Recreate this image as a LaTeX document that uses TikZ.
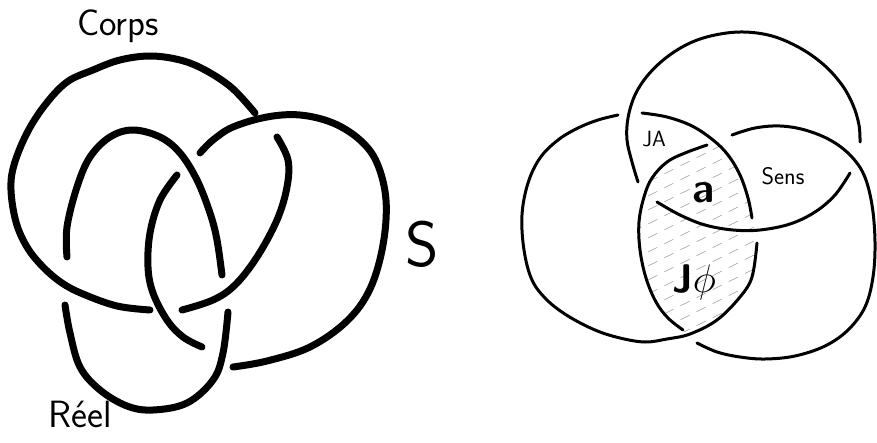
\documentclass[tikz,border=0pt]{standalone}
\begin{document}
\begin{tikzpicture}[x=1pt,y=-1pt,
  thickring/.style={line width=7pt,line cap=round,line join=round},
  thinring/.style={line width=3pt,line cap=round,line join=round},
  hatchline/.style={line width=0.5pt,gray!80,dash pattern=on 10pt off 8pt},
  lbl/.style={inner sep=0pt,font=\sffamily}]
\path[use as bounding box] (0,0) rectangle (877,443);

% ---------- left: Borromean knot ----------
% Corps
\draw[thickring] plot[smooth,tension=0.6] coordinates {(255,113) (232,88) (205,70) (180,60) (150,56) (120,60) (93,70) (67,82) (45,105) (27,133) (14,165) (11,190) (16,222) (27,247) (43,267) (62,283) (83,294) (117,306) (150,310)};
\draw[thickring] plot[smooth,tension=0.6] coordinates {(182,310) (213,300) (235,285) (257,257) (277,220) (287,187) (288,160) (277,137)};
% S
\draw[thickring] plot[smooth,tension=0.6] coordinates {(233,367) (267,361) (310,347) (347,321) (370,289) (383,245) (386,200) (377,163) (360,140) (333,123) (300,115) (267,117) (233,127) (213,140) (200,153)};
\draw[thickring] plot[smooth,tension=0.6] coordinates {(177,175) (160,200) (150,233) (148,267) (153,293) (167,320) (183,337) (202,347)};
% Reel
\draw[thickring] plot[smooth,tension=0.6] coordinates {(67,257) (67,227) (77,187) (90,157) (110,137) (133,130) (160,137) (180,153) (197,180) (210,213) (217,240) (222,275)};
\draw[thickring] plot[smooth,tension=0.6] coordinates {(65,305) (70,333) (80,367) (100,390) (127,406) (153,410) (187,403) (213,380) (223,353) (228,312)};

\node[lbl,font=\sffamily\fontsize{37}{37}\selectfont] (corps) at (118,26) {Corps};
\node[lbl,font=\sffamily\fontsize{64}{64}\selectfont] (s) at (422,244) {S};
\node[lbl,font=\sffamily\fontsize{38}{38}\selectfont] (reel) at (80,414) {Réel};

% ---------- right: flattened rings ----------
\begin{scope}
\clip plot[smooth,tension=0.6] coordinates {(707,145) (685,153) (667,162) (652,178) (644,197) (639,222) (640,250) (646,278) (656,302) (668,318) (683,331) (690,334) (717,320) (740,297) (752,277) (757,243) (752,218) (748,198) (740,175) (728,155) (713,140)} -- cycle;
\foreach \k in {0,...,24}
  \draw[hatchline] (600,150+\k*14) -- ++(220,-110);
\end{scope}

% top circle
\draw[thinring] plot[smooth,tension=0.6] coordinates {(638,182) (632,162) (627,140) (628,118) (635,95) (648,75) (667,57) (690,43) (715,35) (743,32) (772,36) (800,48) (824,65) (842,85) (853,105) (859,125) (860,142)};
\draw[thinring] plot[smooth,tension=0.6] coordinates {(850,173) (835,195) (815,212) (790,224) (760,230) (733,230) (705,225) (680,215) (657,202)};
% left circle
\draw[thinring] plot[smooth,tension=0.6] coordinates {(618,115) (598,120) (578,128) (558,140) (540,158) (528,183) (522,215) (524,250) (532,280) (547,300) (568,316) (595,330) (620,338) (645,342) (667,339) (690,334) (717,320) (740,297) (752,277) (757,243)};
\draw[thinring] plot[smooth,tension=0.6] coordinates {(642,113) (667,117) (692,126) (713,140) (728,155) (740,175) (748,198) (752,218)};
% right circle
\draw[thinring] plot[smooth,tension=0.6] coordinates {(707,145) (685,153) (667,162) (652,178) (644,197) (639,222) (640,250) (646,278) (656,302) (668,318) (683,330)};
\draw[thinring] plot[smooth,tension=0.6] coordinates {(697,343) (717,352) (740,357) (765,359) (795,356) (825,346) (848,330) (865,307) (873,277) (875,242) (872,205) (864,175) (850,155) (830,140) (805,130) (780,126) (755,128) (732,135)};

\node[lbl,font=\sffamily\fontsize{22}{22}\selectfont] (ja) at (654,139) {JA};
\node[lbl,font=\sffamily\bfseries\fontsize{42}{42}\selectfont] (a) at (704,193) {a};
\node[lbl,font=\sffamily\fontsize{24}{24}\selectfont] (sens) at (783,176) {Sens};
\node[lbl,font=\sffamily\bfseries\fontsize{40}{40}\selectfont] (jphi) at (694,282) {J\scalebox{1.6}{$\phi$}};
\end{tikzpicture}
\end{document}
